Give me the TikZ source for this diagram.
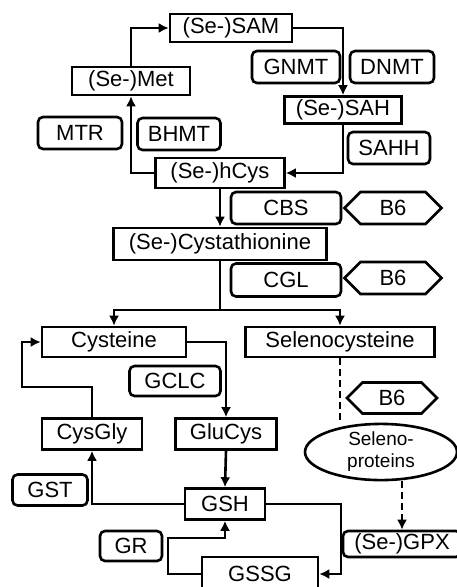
\documentclass[tikz,border=0pt]{standalone}
\usepackage{fontspec}
\setmainfont{Liberation Sans}
\usetikzlibrary{arrows.meta,shapes.geometric,shapes.symbols}

\begin{document}
\begin{tikzpicture}[x=1pt,y=-1pt,line width=2.6pt,>={Latex[length=10pt,width=10pt]}]
  \tikzstyle{metab}=[draw,rectangle,inner sep=0pt,font=\fontsize{22}{24}\selectfont]
  \tikzstyle{enzyme}=[metab,rounded corners=5pt]
  \tikzstyle{cofactor}=[draw,signal,signal to=west and east,inner sep=0pt,font=\fontsize{22}{24}\selectfont]
  \tikzstyle{guess}=[dash pattern=on 7pt off 4pt]

  \useasboundingbox (0,0) rectangle (457,587);

  % METHIONINE CYCLE
  \node[metab,minimum width=122pt,minimum height=28pt] (sam) at (231,28) {(Se-)SAM};
  \node[metab,minimum width=118pt,minimum height=28pt] (met) at (131,81) {(Se-)Met};
  \node[metab,minimum width=117pt,minimum height=27pt] (sah) at (343,110) {(Se-)SAH};
  \node[metab,minimum width=129pt,minimum height=30pt] (hcys) at (220,173) {(Se-)hCys};
  \node[enzyme,minimum width=88pt,minimum height=32pt] (gnmt) at (296,67) {GNMT};
  \node[enzyme,minimum width=84pt,minimum height=32pt] (dnmt) at (392,67) {DNMT};
  \node[enzyme,minimum width=84pt,minimum height=32pt] (mtr) at (80,133) {MTR};
  \node[enzyme,minimum width=83pt,minimum height=32pt] (bhmt) at (179,134) {BHMT};
  \node[enzyme,minimum width=82pt,minimum height=32pt] (sahh) at (389,148) {SAHH};

  \draw[->] (met.north) |- (sam.west);
  \draw[->] (sam.east) -| (sah.north);
  \draw[->] (sah.south) |- (hcys.east);
  \draw[->] (hcys.west) -| (met.south);

  % TRANSSULFURATION
  \node[metab,minimum width=213pt,minimum height=32pt] (cysta) at (220,244) {(Se-)Cystathionine};
  \node[enzyme,minimum width=110pt,minimum height=32pt] (cbs) at (286,208) {CBS};
  \node[enzyme,minimum width=110pt,minimum height=33pt] (cgl) at (286,280) {CGL};
  \node[cofactor,minimum width=97pt,minimum height=32pt] (bsixa) at (393,208) {B6};
  \node[cofactor,minimum width=97pt,minimum height=32pt] (bsixb) at (393,278) {B6};
  \node[metab,minimum width=144pt,minimum height=30pt] (cys) at (114,342) {Cysteine};
  \node[metab,minimum width=189pt,minimum height=30pt] (secys) at (340,342) {Selenocysteine};
  \coordinate (split) at (220,310);

  \draw[->] (hcys.south) -- (cysta.north);
  \draw (cysta.south) -- (split);
  \draw[->] (split) -| (cys.north);
  \draw[->] (split) -| (secys.north);

  % GLUTATHIONE
  \node[enzyme,minimum width=91pt,minimum height=30pt] (gclc) at (175,381) {GCLC};
  \node[metab,minimum width=100pt,minimum height=31pt] (cysgly) at (92,434) {CysGly};
  \node[metab,minimum width=101pt,minimum height=31pt] (glucys) at (226,434) {GluCys};
  \node[metab,minimum width=80pt,minimum height=31pt] (gsh) at (225,504) {GSH};
  \node[metab,minimum width=116pt,minimum height=34pt] (gssg) at (260,574) {GSSG};
  \node[enzyme,minimum width=75pt,minimum height=31pt] (gst) at (50,490) {GST};
  \node[enzyme,minimum width=62pt,minimum height=30pt] (gr) at (131,546) {GR};
  \coordinate (loop) at (22,387);
  \coordinate (rturn) at (341,574);
  \coordinate (lturn) at (168,538);

  \draw[->] (cys.east) -| (glucys.north);
  \draw[->] (cysgly.north) |- (loop) |- (cys.west);
  \draw[->] (glucys.south) -- (gsh.north);
  \draw[->] (gsh.west) -| (cysgly.south);
  \draw[->] (gsh.east) -| (rturn) -- (gssg.east);
  \draw[->] (gssg.west) -| (lturn) -| (gsh.south);

  % SELENOPROTEINS
  \node[cofactor,minimum width=90pt,minimum height=31pt] (bsixc) at (392,398) {B6};
  \node[draw,ellipse,inner sep=0pt,minimum width=152pt,minimum height=41pt,
        align=center,font=\fontsize{19}{22}\selectfont] (selp) at (381,452) {Seleno-\\proteins};
  \node[enzyme,minimum width=118pt,minimum height=26pt] (gpx) at (402,544) {(Se-)GPX};

  \draw[guess] (secys.south) -- (secys.south |- selp.north);
  \draw[guess,->] (gpx.north |- selp.south) -- (gpx.north);
\end{tikzpicture}
\end{document}
